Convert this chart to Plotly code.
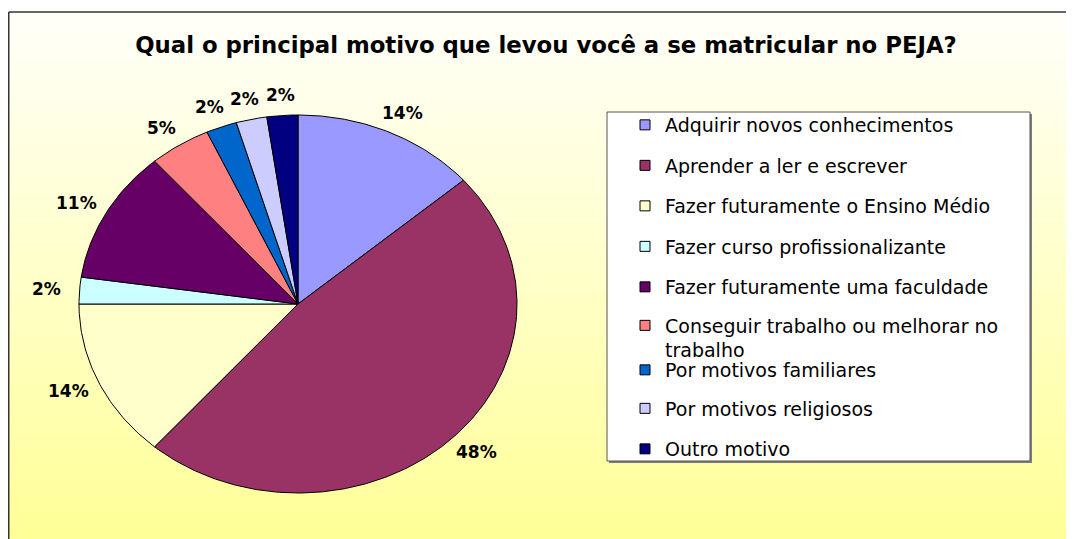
import math
import plotly.graph_objects as go

# ---------------- data ----------------
categories = [
    "Adquirir novos conhecimentos",
    "Aprender a ler e escrever",
    "Fazer futuramente o Ensino Médio",
    "Fazer curso profissionalizante",
    "Fazer futuramente uma faculdade",
    "Conseguir trabalho ou melhorar no<br>trabalho",
    "Por motivos familiares",
    "Por motivos religiosos",
    "Outro motivo",
]
counts = [6, 21, 6, 1, 5, 2, 1, 1, 1]
colors = ["#9999FF", "#993366", "#FFFFCC", "#CCFFFF", "#660066",
          "#FF8080", "#0066CC", "#CCCCFF", "#000080"]
title_text = "Qual o principal motivo que levou você a se matricular no PEJA?"

# ---------------- layout constants (screen pixels) ----------------
W, H = 1074, 539
OFF = 8                    # page body margin offset
CX, CY = 298, 304          # pie centre (screen px)
RX, RY = 219, 189          # pie radii (px)
XR = 1.3                   # x half-range (data units)
YLO, YHI = -1.2, 1.3       # y range (data units)
KX, KY = 1.15, 1.11        # label radial factors
FONT = "DejaVu Sans"


def px(x):
    return (x - OFF) / W


def py(y):
    return 1 - (y - OFF) / H


total = sum(counts)
fig = go.Figure()

# gradient background inside frame
FRAME_X, FRAME_Y = 8.75, 12
nb = 90
top_c = (255, 255, 250)
bot_c = (255, 255, 150)
shapes = []
y_end = H + OFF
for i in range(nb):
    y0 = FRAME_Y + (y_end - FRAME_Y) * i / nb
    y1 = FRAME_Y + (y_end - FRAME_Y) * (i + 1) / nb + 0.8
    t = (i + 0.5) / nb
    c = tuple(round(top_c[k] + (bot_c[k] - top_c[k]) * t) for k in range(3))
    shapes.append(dict(type="rect", xref="paper", yref="paper", layer="below",
                       x0=px(FRAME_X), x1=1.0, y0=max(0, py(y1)), y1=py(y0),
                       line=dict(width=0), fillcolor="rgb(%d,%d,%d)" % c))
# frame lines
shapes.append(dict(type="line", xref="paper", yref="paper", x0=px(FRAME_X), x1=1.0,
                   y0=py(FRAME_Y), y1=py(FRAME_Y), line=dict(color="#333333", width=1.5)))
shapes.append(dict(type="line", xref="paper", yref="paper", x0=px(FRAME_X), x1=px(FRAME_X),
                   y0=0, y1=py(FRAME_Y), line=dict(color="#333333", width=1.5)))
# legend box (shadow + box)
LB = (607, 112, 1030, 461)
shapes.append(dict(type="rect", xref="paper", yref="paper", layer="below",
                   x0=px(LB[0] + 2), x1=px(LB[2] + 2), y0=py(LB[3] + 2), y1=py(LB[1] + 2),
                   line=dict(width=0), fillcolor="#7f7f7f"))
shapes.append(dict(type="rect", xref="paper", yref="paper", layer="below",
                   x0=px(LB[0]), x1=px(LB[2]), y0=py(LB[3]), y1=py(LB[1]),
                   line=dict(color="#555555", width=1), fillcolor="white"))

# pie slices (elliptical, drawn through axis scales)
annotations = []
cum = 0
for name, v, col in zip(categories, counts, colors):
    f0 = cum / total
    f1 = (cum + v) / total
    cum += v
    n = max(3, int((f1 - f0) * 500))
    xs, ys = [0.0], [0.0]
    for j in range(n + 1):
        th = 2 * math.pi * (f0 + (f1 - f0) * j / n)
        xs.append(math.sin(th))
        ys.append(math.cos(th))
    xs.append(0.0)
    ys.append(0.0)
    fig.add_trace(go.Scatter(x=xs, y=ys, mode="lines", fill="toself", fillcolor=col,
                             line=dict(color="black", width=1), showlegend=False,
                             hoverinfo="skip"))
    mid = 2 * math.pi * (f0 + f1) / 2
    annotations.append(dict(x=KX * math.sin(mid), y=KY * math.cos(mid), xref="x", yref="y",
                            text=f"{round(100 * v / total)}%", showarrow=False,
                            font=dict(family=FONT, size=17, color="black", weight="bold"),
                            xanchor="center", yanchor="middle"))

# legend entries, one legend each for exact spacing
LEG_TOP, LEG_STEP, LEG_X = 125, 40.5, 665 - 40
nudge = [0, 0, 0, 0, 0, -2, 2, 0, 0]
legend_layouts = {}
for i, (name, col) in enumerate(zip(categories, colors)):
    lname = "legend" if i == 0 else f"legend{i + 1}"
    fig.add_trace(go.Scatter(x=[None], y=[None], mode="markers", name=name,
                             marker=dict(symbol="square", size=10, color=col,
                                         line=dict(color="black", width=1)),
                             legend=lname, showlegend=True))
    cy = LEG_TOP + i * LEG_STEP + nudge[i]
    legend_layouts[lname] = dict(x=px(LEG_X), y=py(cy - 19), xanchor="left", yanchor="top",
                                 valign="top", bgcolor="rgba(0,0,0,0)", borderwidth=0,
                                 font=dict(family=FONT, size=19, color="black"))

x_dom = [px(CX - XR * RX), px(CX + XR * RX)]
y_dom = [py(CY - YLO * RY), py(CY - YHI * RY)]

fig.update_layout(
    width=W, height=H,
    margin=dict(l=0, r=0, t=0, b=0),
    paper_bgcolor="white",
    plot_bgcolor="rgba(0,0,0,0)",
    xaxis=dict(range=[-XR, XR], domain=x_dom, visible=False, fixedrange=True),
    yaxis=dict(range=[YLO, YHI], domain=y_dom, visible=False, fixedrange=True),
    shapes=shapes,
    annotations=annotations,
    title=dict(text=title_text, x=px(546), xanchor="center", y=py(45), yanchor="middle",
               yref="container", xref="paper",
               font=dict(family=FONT, size=22.8, color="black", weight="bold")),
    showlegend=True,
    **legend_layouts,
)

fig.write_html("out.html")
